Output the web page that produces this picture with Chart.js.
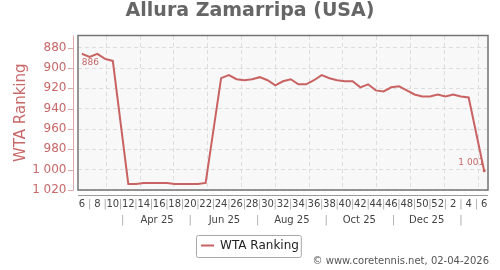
<!DOCTYPE html>
<html>
<head>
<meta charset="utf-8">
<script src="https://cdn.jsdelivr.net/npm/chart.js@4.4.1/dist/chart.umd.min.js"></script>
<style>
  html, body { margin: 0; padding: 0; background: #fff; }
</style>
</head>
<body>
<canvas id="myChart" width="500" height="270"></canvas>
<script>
const ctx = document.querySelector('#myChart').getContext('2d');

const playerName = 'Allura Zamarripa (USA)';
const seriesName = 'WTA Ranking';
const footer = '\u00a9 www.coretennis.net, 02-04-2026';

// one point per week, first one is week 6 of 2025
const firstWeekDate = '2025-02-07';
const weekNumbers = [6, 7, 8, 9, 10, 11, 12, 13, 14, 15, 16, 17, 18, 19, 20, 21, 22, 23, 24, 25, 26, 27, 28, 29,
  30, 31, 32, 33, 34, 35, 36, 37, 38, 39, 40, 41, 42, 43, 44, 45, 46, 47, 48, 49, 50, 51, 52, 1, 2, 3, 4, 5, 6];
const ranks = [886, 889, 886, 891, 893, null, 1014, 1014, 1013, 1013, 1013, 1013, 1014, 1014, 1014, 1014, 1013, null,
  910, 907, 911, 912, 911, 909, 912, 917, 913, 911, 916, 916, 912, 907, 910, 912, 913, 913, 919, 916, 922, 923,
  919, 918, 922, 926, 928, 928, 926, 928, 926, 928, 929, null, 1001];

const yTicks = [880, 900, 920, 940, 960, 980, 1000, 1020];
const monthStarts = ['2025-03-01', '2025-04-01', '2025-05-01', '2025-06-01', '2025-07-01', '2025-08-01',
  '2025-09-01', '2025-10-01', '2025-11-01', '2025-12-01', '2026-01-01', '2026-02-01'];
const monthTickDates = ['2025-03-16', '2025-04-16', '2025-05-16', '2025-06-16', '2025-07-16', '2025-08-16',
  '2025-09-16', '2025-10-16', '2025-11-16', '2025-12-16', '2026-01-16'];
const monthTickLabels = ['|', 'Apr 25', '|', 'Jun 25', '|', 'Aug 25', '|', 'Oct 25', '|', 'Dec 25', '|'];

const red = '#c96262';
const redText = '#c86868';
const gridColor = '#dddddd';

const t0 = Date.parse(firstWeekDate);
const weekPos = (d) => (Date.parse(d) - t0) / (7 * 864e5);
const fmt = (v) => String(v).replace(/\B(?=(\d{3})+(?!\d))/g, ' ');
const lastIdx = ranks.length - 1;

Chart.defaults.font.family = '"DejaVu Sans", sans-serif';

const framePlugin = {
  id: 'frame',
  beforeDraw(chart) {
    const a = chart.chartArea;
    const c = chart.ctx;
    c.save();
    c.fillStyle = '#f8f8f8';
    c.fillRect(a.left, a.top, a.width, a.height);
    c.restore();
  },
  afterDatasetsDraw(chart) {
    const c = chart.ctx;
    const pts = chart.getDatasetMeta(0).data;
    const valid = ranks.filter(v => v !== null);
    const best = ranks.indexOf(Math.min(...valid));
    c.save();
    c.font = '9px "DejaVu Sans"';
    c.fillStyle = redText;
    c.textBaseline = 'middle';
    c.textAlign = 'left';
    c.fillText(fmt(ranks[best]), pts[best].x, pts[best].y + 9);
    c.textAlign = 'right';
    c.fillText(fmt(ranks[lastIdx]), pts[lastIdx].x, pts[lastIdx].y - 8);
    c.restore();
  },
  afterDraw(chart) {
    const c = chart.ctx;
    const a = chart.chartArea;
    const y = chart.scales.y;
    c.save();
    c.strokeStyle = '#737373';
    c.lineWidth = 1.5;
    c.strokeRect(a.left, a.top, a.width, a.height);

    // axis lines sit a few px away from the frame
    c.lineWidth = 1;
    c.strokeStyle = '#dfa8a8';
    c.beginPath();
    c.moveTo(a.left - 4.5, a.top);
    c.lineTo(a.left - 4.5, a.bottom);
    y.ticks.forEach(t => {
      const py = Math.round(y.getPixelForValue(t.value)) + 0.5;
      c.moveTo(a.left - 10, py);
      c.lineTo(a.left - 4.5, py);
    });
    c.stroke();
    c.strokeStyle = '#9a9a9a';
    c.beginPath();
    c.moveTo(a.left, a.bottom + 5.5);
    c.lineTo(a.right, a.bottom + 5.5);
    c.stroke();

    // legend frame
    const hb = chart.legend.legendHitBoxes[0];
    if (hb) {
      c.strokeStyle = '#a8a8a8';
      c.beginPath();
      c.roundRect(Math.round(hb.left) - 4.5, Math.round(hb.top) - 4.5, hb.width + 7, hb.height + 10, 2);
      c.stroke();
    }

    // footer
    c.font = '10px "DejaVu Sans"';
    c.fillStyle = '#555';
    c.textAlign = 'right';
    c.textBaseline = 'middle';
    c.fillText(footer, a.right + 1, chart.legend.bottom);
    c.restore();
  }
};

const data = {
  datasets: [{
    label: seriesName,
    data: ranks.map((v, i) => ({ x: i, y: v })),
    borderColor: red,
    backgroundColor: red,
    borderWidth: 2,
    pointRadius: (c) => (c.dataIndex === lastIdx ? 1.5 : 0),
    pointBackgroundColor: red,
    pointBorderColor: red,
    pointBorderWidth: (c) => (c.dataIndex === lastIdx ? 0 : 2),
    spanGaps: true,
    tension: 0,
  }]
};

const config = {
  type: 'line',
  data: data,
  options: {
    responsive: false,
    animation: false,
    layout: { padding: { left: 0, right: 0, top: 0, bottom: 8.5 } },
    scales: {
      x: {
        type: 'linear',
        position: 'bottom',
        weight: 1,
        min: -0.5,
        max: ranks.length - 0.5,
        afterBuildTicks: (s) => { s.ticks = weekNumbers.map((w, i) => ({ value: i })); },
        afterFit: (s) => { s.height = 22; },
        grid: { display: false, drawTicks: false },
        border: { display: false },
        ticks: {
          autoSkip: false,
          maxRotation: 0,
          minRotation: 0,
          padding: 8,
          font: { size: 10 },
          color: (c) => (weekNumbers[c.index] % 2 ? '#a8a8a8' : '#444'),
          callback: (v) => (weekNumbers[v] % 2 ? '|' : String(weekNumbers[v])),
        }
      },
      xm: {
        type: 'linear',
        position: 'bottom',
        weight: 2,
        min: -0.5,
        max: ranks.length - 0.5,
        afterBuildTicks: (s) => { s.ticks = monthTickDates.map(d => ({ value: weekPos(d) })); },
        afterFit: (s) => { s.height = 17.5; },
        grid: { display: false, drawTicks: false },
        border: { display: false },
        ticks: {
          autoSkip: false,
          maxRotation: 0,
          minRotation: 0,
          padding: 2.5,
          font: { size: 10 },
          color: (c) => (monthTickLabels[c.index] === '|' ? '#a8a8a8' : '#444'),
          callback: (v, i) => monthTickLabels[i],
        }
      },
      xg: {
        type: 'linear',
        position: 'top',
        min: -0.5,
        max: ranks.length - 0.5,
        afterBuildTicks: (s) => { s.ticks = monthStarts.map(d => ({ value: weekPos(d) })); },
        afterFit: (s) => { s.height = 0; },
        grid: { color: gridColor, drawTicks: false },
        border: { display: false, dash: [4, 3] },
        ticks: { display: false },
      },
      y: {
        reverse: true,
        min: 868,
        max: 1020,
        afterBuildTicks: (s) => { s.ticks = yTicks.map(v => ({ value: v })); },
        afterFit: (s) => { s.width = 78; },
        grid: { color: gridColor, drawTicks: false },
        border: { display: false, dash: [4, 3] },
        ticks: {
          color: redText,
          padding: 11.5,
          font: { size: 12 },
          callback: (v) => fmt(v),
        },
        title: {
          display: true,
          text: seriesName,
          color: redText,
          font: { size: 15 },
          padding: { top: 12, bottom: 0 },
        }
      },
      yr: {
        type: 'linear',
        position: 'right',
        afterFit: (s) => { s.width = 12; },
        grid: { display: false },
        border: { display: false },
        ticks: { display: false },
      }
    },
    plugins: {
      title: {
        display: true,
        text: playerName,
        color: '#666',
        font: { size: 19, weight: 'bold' },
        padding: { top: 0, bottom: 12.7 },
      },
      legend: {
        position: 'bottom',
        labels: {
          usePointStyle: true,
          pointStyle: 'line',
          pointStyleWidth: 13,
          padding: 10,
          color: '#222',
          font: { size: 12 },
        }
      },
      tooltip: { enabled: false },
    }
  },
  plugins: [framePlugin],
};

const myChart = new Chart(ctx, config);
</script>
</body>
</html>
